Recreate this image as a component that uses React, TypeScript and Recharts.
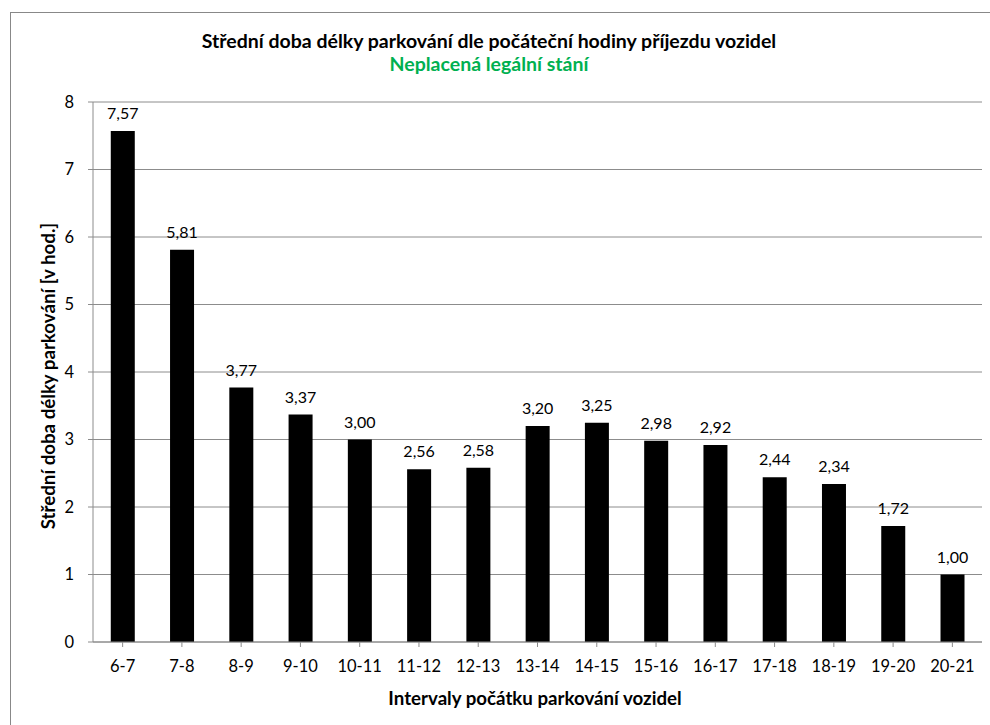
import React from 'react';
import { BarChart, Bar, XAxis, YAxis, CartesianGrid, LabelList } from 'recharts';

const categories = ['6-7', '7-8', '8-9', '9-10', '10-11', '11-12', '12-13', '13-14', '14-15', '15-16', '16-17', '17-18', '18-19', '19-20', '20-21'];
const values = [7.57, 5.81, 3.77, 3.37, 3.0, 2.56, 2.58, 3.2, 3.25, 2.98, 2.92, 2.44, 2.34, 1.72, 1.0];
const yTicks = [0, 1, 2, 3, 4, 5, 6, 7, 8];

const data = categories.map((c, i) => ({ name: c, value: values[i] }));

const FONT = 'Lato, "Open Sans", sans-serif';
const GRID = '#8c8c8c';

const fmt = (v: any) => Number(v).toFixed(2).replace('.', ',');

export default function App() {
  return (
    <div style={{ position: 'absolute', left: 0, top: 0, width: 990, height: 725, overflow: 'hidden', background: '#fff', fontFamily: FONT }}>
      <div style={{ position: 'absolute', left: 10, top: 12, width: 1000, height: 800, border: '1px solid #888', boxSizing: 'border-box' }} />
      <div style={{ position: 'absolute', left: 0, width: 978, top: 29, textAlign: 'center', fontWeight: 700, fontSize: 19.5, color: '#000', lineHeight: '23px' }}>
        Střední doba délky parkování dle počáteční hodiny příjezdu vozidel
        <br />
        <span style={{ color: '#00B050' }}>Neplacená legální stání</span>
      </div>
      <div style={{ position: 'absolute', left: 47.5, top: 376, transform: 'translate(-50%, -50%) rotate(-90deg)', whiteSpace: 'nowrap', fontWeight: 700, fontSize: 18.7, color: '#000' }}>
        Střední doba délky parkování [v hod.]
      </div>
      <div style={{ position: 'absolute', left: 535, top: 698, transform: 'translate(-50%, -50%)', whiteSpace: 'nowrap', fontWeight: 700, fontSize: 18.7, color: '#000' }}>
        Intervaly počátku parkování vozidel
      </div>
      <div style={{ position: 'absolute', left: 0, top: 0 }}>
        <BarChart width={990} height={725} data={data} margin={{ top: 102, right: 8, bottom: 50, left: 0 }} barCategoryGap="30%">
          <CartesianGrid vertical={false} stroke={GRID} strokeWidth={1} />
          <XAxis
            dataKey="name"
            height={33}
            stroke={GRID}
            tickLine={{ stroke: GRID }}
            tickSize={5}
            tickMargin={13}
            interval={0}
            tick={{ fill: '#000', fontSize: 16.5, fontFamily: FONT }}
          />
          <YAxis
            width={93}
            domain={[0, 8]}
            ticks={yTicks}
            stroke={GRID}
            tickLine={{ stroke: GRID }}
            tickSize={5}
            tickMargin={14}
            tick={{ fill: '#000', fontSize: 16.5, fontFamily: FONT }}
          />
          <Bar dataKey="value" fill="#000" isAnimationActive={false}>
            <LabelList dataKey="value" position="top" offset={12} formatter={fmt} style={{ fill: '#000', fontSize: 16, fontFamily: FONT }} />
          </Bar>
        </BarChart>
      </div>
    </div>
  );
}
